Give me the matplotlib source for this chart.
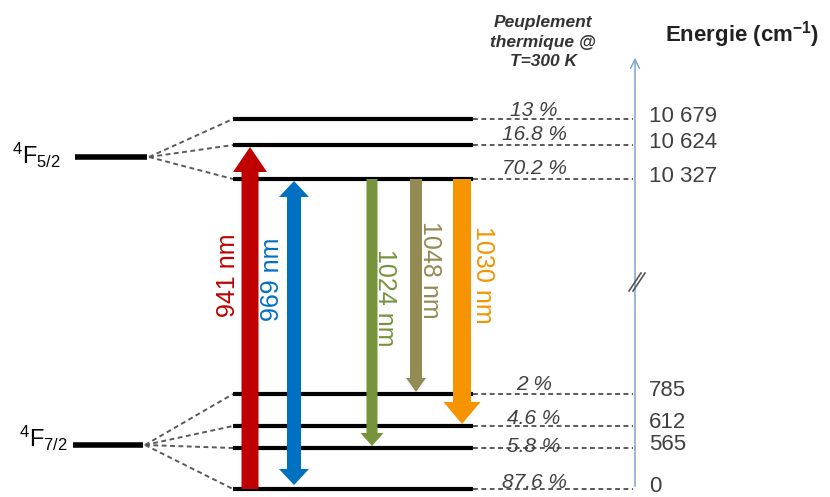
import matplotlib
matplotlib.use('Agg')
import matplotlib.pyplot as plt
from matplotlib.patches import FancyArrow, FancyArrowPatch

# Données : niveaux Stark (cm-1), peuplement thermique, transitions
levels_cm = [0, 565, 612, 785, 10327, 10624, 10679]
level_labels = ['0', '565', '612', '785', '10 327', '10 624', '10 679']
populations = ['87.6 %', '5.8 %', '4.6 %', '2 %', '70.2 %', '16.8 %', '13 %']
manifolds = [r'$^{4}$F$_{7/2}$', r'$^{4}$F$_{5/2}$']
manifold_members = [[0, 1, 2, 3], [4, 5, 6]]

wavelengths = ['941 nm', '969 nm', '1024 nm', '1048 nm', '1030 nm']
trans_low = [0, 0, 1, 3, 2]      # index du niveau bas
trans_high = [5, 4, 4, 4, 4]     # index du niveau haut
trans_kind = ['up', 'both', 'down', 'down', 'down']

# Mise en page schématique (pixels, diagramme pas à l'échelle)
level_y = [489, 448, 426, 394, 179, 145, 119]
pct_dy = [-7, -2, -8, -10, -10, -11, -9]
manifold_y = [445, 157]
manifold_x = [(73, 143), (75, 147)]
manifold_text = [(19, 438), (12, 155)]
trans_x = [250, 294, 372, 416, 462]
trans_w = [17, 14, 11, 12, 18]
trans_hw = [34, 30, 23, 20, 37]
trans_hl = [25, 16, 13, 14, 22]
label_x = [228, 272, 385, 430, 483]
label_y = [275, 279, 298, 270, 275]
colors = ['#C00000', '#0070C0', '#77933C', '#948A54', '#F59300']

plt.rcParams['font.family'] = ['Liberation Sans', 'DejaVu Sans']
plt.rcParams['mathtext.fontset'] = 'custom'
plt.rcParams['mathtext.rm'] = 'Liberation Sans'
plt.rcParams['mathtext.it'] = 'Liberation Sans:italic'
plt.rcParams['mathtext.bf'] = 'Liberation Sans:bold'

fig = plt.figure(figsize=(8.3, 4.97), dpi=100)
ax = fig.add_axes([0, 0, 1, 1])
ax.set_xlim(0, 830)
ax.set_ylim(497, 0)
ax.axis('off')

dash = (0, (2.5, 1.8))
grey = '#5A5A5A'
x_lev0, x_lev1, x_axis = 233, 473, 635

# niveaux Stark + pointillés vers l'axe
for i, y in enumerate(level_y):
    ax.plot([x_lev0, x_lev1], [y, y], color='black', lw=3, solid_capstyle='butt', zorder=2)
    ax.plot([x_lev1, x_axis - 2], [y, y], color=grey, lw=1.4, ls=dash, zorder=1)
    ax.text(534, y + pct_dy[i], populations[i], fontsize=15, style='italic',
            color='#404040', ha='center', va='center', zorder=5)
    ax.text(649, y - 3, level_labels[i], fontsize=16, color='#404040',
            ha='left', va='center')

# multiplets et éventail
for m, name in enumerate(manifolds):
    x0, x1 = manifold_x[m]
    ym = manifold_y[m]
    ax.plot([x0, x1], [ym, ym], color='black', lw=4, solid_capstyle='butt')
    for k in manifold_members[m]:
        ax.plot([x1 + 2, x_lev0], [ym, level_y[k]], color=grey, lw=1.4, ls=dash)
    tx, ty = manifold_text[m]
    ax.text(tx, ty, name, fontsize=17, color='black', ha='left', va='center')

# transitions
for t in range(len(wavelengths)):
    x = trans_x[t]
    y_lo = level_y[trans_low[t]]
    y_hi = level_y[trans_high[t]]
    kw = dict(width=trans_w[t], head_width=trans_hw[t], head_length=trans_hl[t],
              length_includes_head=True, color=colors[t], lw=0, zorder=3)
    if trans_kind[t] == 'up':
        ax.add_patch(FancyArrow(x, y_lo, 0, y_hi + 2 - y_lo, **kw))
        rot = 90
    elif trans_kind[t] == 'down':
        ax.add_patch(FancyArrow(x, y_hi, 0, y_lo - 2 - y_hi, **kw))
        rot = 270
    else:
        mid = (y_lo + y_hi) / 2
        ax.add_patch(FancyArrow(x, mid, 0, y_hi + 2 - mid, **kw))
        ax.add_patch(FancyArrow(x, mid, 0, y_lo - 4 - mid, **kw))
        rot = 90
    ax.text(label_x[t], label_y[t], wavelengths[t], fontsize=18, color=colors[t],
            rotation=rot, ha='center', va='center', zorder=4)

# axe des énergies
ax.add_patch(FancyArrowPatch((x_axis, level_y[0]), (x_axis, 55), arrowstyle='->',
                             mutation_scale=16, color='#7FA3CC', lw=1.1))
for off in (0, 4):
    ax.plot([629 + off, 641 + off], [291, 273], color='#555555', lw=1.2)

ax.text(543, 42, 'Peuplement\nthermique @\nT=300 K', fontsize=12.5, fontweight='bold',
        style='italic', color='#333333', ha='center', va='center', linespacing=1.35)
ax.text(665, 35, r'Energie (cm$^{\mathbf{-1}}$)', fontsize=16, fontweight='bold',
        color='#222222', ha='left', va='center')

fig.savefig('out.png', dpi=100)
